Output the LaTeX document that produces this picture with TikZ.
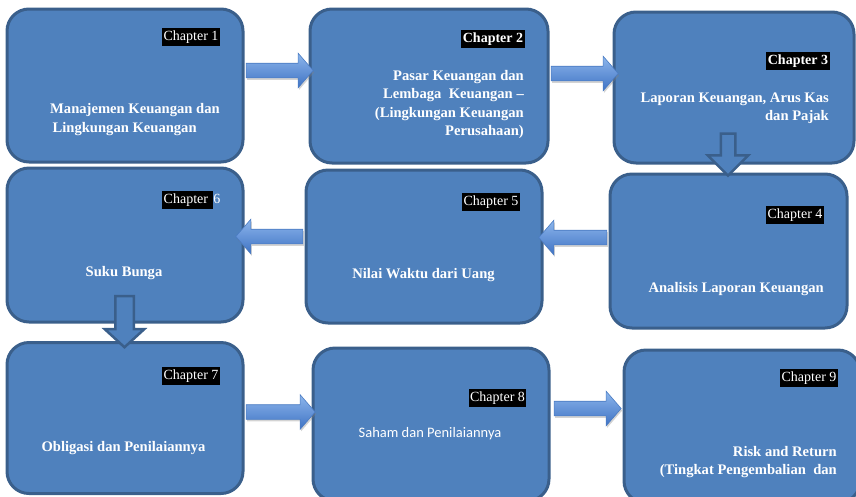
\documentclass[tikz,border=0pt]{standalone}
\usepackage{fontspec}
\setmainfont{Liberation Serif}
\newfontfamily\carlitofont{Carlito}
\usetikzlibrary{shapes.arrows,shadows}
\definecolor{boxfill}{HTML}{4F81BD}
\definecolor{boxline}{HTML}{3A5F8B}
\definecolor{arrtop}{HTML}{8DB6EC}
\definecolor{arrmid}{HTML}{5F93DC}
\definecolor{arrbot}{HTML}{3F73C4}
\definecolor{arrline}{HTML}{4A7BC2}
\begin{document}
\begin{tikzpicture}[x=1pt,y=-1pt,
  chbox/.style={draw=boxline,line width=3pt,fill=boxfill,rounded corners=22pt,inner sep=0pt},
  chlabel/.style={fill=black,text=white,inner xsep=1.5pt,inner ysep=2.5pt,text height=10pt,text depth=3pt,font=\fontsize{14}{16}\selectfont},
  chlabelb/.style={chlabel,font=\fontsize{14}{16}\selectfont\bfseries},
  body/.style={text=white,font=\fontsize{14.6}{18.3}\selectfont\bfseries,inner sep=0pt},
  barrow/.style={single arrow,draw=arrline,line width=0.6pt,top color=arrtop,middle color=arrmid,bottom color=arrbot,
    inner xsep=0pt,inner ysep=7pt,single arrow head extend=10pt,single arrow tip angle=98,
    drop shadow={opacity=0.35,shadow xshift=1pt,shadow yshift=-2pt}},
  darrow/.style={single arrow,draw=boxline,line width=2.5pt,fill=boxfill,rotate=-90,inner xsep=0pt}
]
\useasboundingbox (0,0) rectangle (856,496);
\clip (0,0) rectangle (856,496);

% boxes
\node[chbox,minimum width=236pt,minimum height=153pt] (b1) at (125,85.5) {};
\node[chbox,minimum width=238pt,minimum height=154pt] (b2) at (429,86) {};
\node[chbox,minimum width=240pt,minimum height=151pt] (b3) at (734,87.5) {};
\node[chbox,minimum width=237pt,minimum height=154pt] (b4) at (728.5,251) {};
\node[chbox,minimum width=236pt,minimum height=153pt] (b5) at (424,246.5) {};
\node[chbox,minimum width=236pt,minimum height=154pt] (b6) at (125,245) {};
\node[chbox,minimum width=236pt,minimum height=151pt] (b7) at (125,418) {};
\node[chbox,minimum width=236pt,minimum height=153pt] (b8) at (431,424.5) {};
\node[chbox,minimum width=236pt,minimum height=153pt] (b9) at (742,426.5) {};

% block arrows
\node[barrow,minimum height=67pt] (a12) at (276.5,70.5) {};
\node[barrow,minimum height=67pt] (a23) at (581.5,73.5) {};
\node[barrow,minimum height=68pt,shape border rotate=180] (a45) at (576,237.5) {};
\node[barrow,minimum height=67pt,shape border rotate=180] (a56) at (272.5,236.5) {};
\node[barrow,minimum height=69pt] (a78) at (277.5,412) {};
\node[barrow,minimum height=67pt] (a89) at (584.5,408.5) {};
\node[darrow,minimum height=42pt,inner ysep=6pt,single arrow head extend=13pt,single arrow tip angle=90] (a34) at (728,151) {};
\node[darrow,minimum height=51pt,inner ysep=8pt,single arrow head extend=10.5pt,single arrow tip angle=95] (a67) at (124.5,317.5) {};

% chapter labels
\node[chlabel] (c1) at (191,36.5) {Chapter 1};
\node[chlabelb] (c2) at (493,38.5) {Chapter 2};
\node[chlabelb] (c3) at (798,60.5) {Chapter 3};
\node[chlabel] (c4) at (795,214.5) {Chapter 4};
\node[chlabel] (c5) at (491,201.5) {Chapter 5};
\node[chlabel,anchor=west] (c6) at (162,199.5) {Chapter\hspace{3.5pt}\null};
\node[text=white,font=\fontsize{14}{16}\selectfont,inner sep=0pt,anchor=base west] (c6n) at (c6.base east) {6};
\node[chlabel] (c7) at (191,376) {Chapter 7};
\node[chlabel] (c8) at (497.5,397.5) {Chapter 8};
\node[chlabel] (c9) at (809,377.5) {Chapter 9};

% body texts
\node[body,align=left,anchor=west] (t1) at (50,119.5) {Manajemen Keuangan dan\\\,Lingkungan Keuangan};
\node[body,align=right,anchor=east] (t2) at (524,104.5) {Pasar Keuangan dan\\Lembaga\ \ Keuangan --\\(Lingkungan Keuangan\\Perusahaan)};
\node[body,align=right,anchor=east] (t3) at (829,108) {Laporan Keuangan, Arus Kas\\dan Pajak};
\node[body,anchor=east] (t4) at (824,289) {Analisis Laporan Keuangan};
\node[body] (t5) at (423.5,275) {Nilai Waktu dari Uang};
\node[body] (t6) at (124,273) {Suku Bunga};
\node[body] (t7) at (123.5,448) {Obligasi dan Penilaiannya};
\node[text=white,font=\carlitofont\fontsize{14.5}{17}\selectfont,inner sep=0pt] (t8) at (430,434) {Saham dan Penilaiannya};
\node[body,align=right,anchor=east] (t9) at (837,462) {Risk and Return\\(Tingkat Pengembalian\ \ dan};
\end{tikzpicture}
\end{document}
